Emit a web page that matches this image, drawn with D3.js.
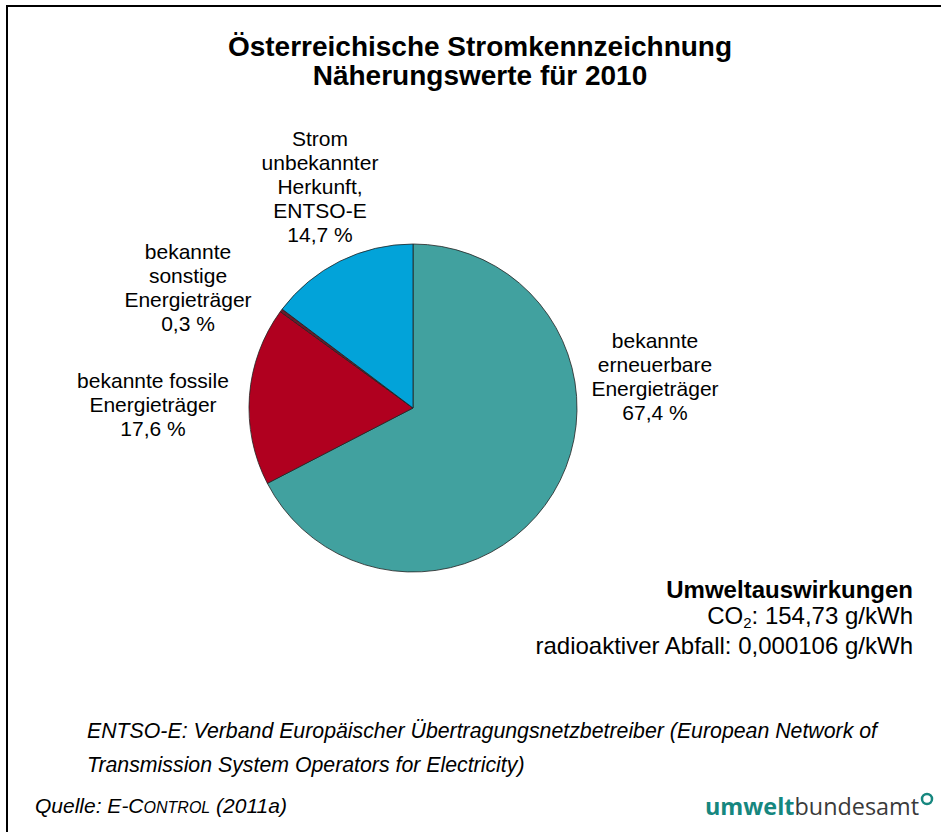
<!DOCTYPE html>
<html>
<head>
<meta charset="utf-8">
<script src="https://cdn.jsdelivr.net/npm/d3@7"></script>
<style>
  body { margin: 0; background: #fff; }
  svg { display: block; font-family: "Liberation Sans", Arial, sans-serif; }
</style>
</head>
<body>
<svg id="chart" width="941" height="832"></svg>
<script>
// slices, clockwise from 12 o'clock
var categories = ["erneuerbar", "fossil", "sonstige", "unbekannt"];
var shares = [67.4, 17.6, 0.3, 14.7];
var sliceColors = ["#41a19f", "#b0001f", "#6a1b2b", "#02a3d9"];
var labelLines = [
    ["bekannte", "erneuerbare", "Energieträger", "67,4 %"],
    ["bekannte fossile", "Energieträger", "17,6 %"],
    ["bekannte", "sonstige", "Energieträger", "0,3 %"],
    ["Strom", "unbekannter", "Herkunft,", "ENTSO-E", "14,7 %"]
];
// where each label block starts (centre x, first line y)
var labelAnchors = [[655, 348], [153, 388], [188, 259], [320, 146]];

var titleLines = ["Österreichische Stromkennzeichnung", "Näherungswerte für 2010"];

var svg = d3.select("#chart");
var width = 941, height = 832;

// frame (runs off right and bottom)
svg.append("rect")
    .attr("x", 7).attr("y", 6)
    .attr("width", 960).attr("height", 860)
    .attr("fill", "none")
    .attr("stroke", "#000")
    .attr("stroke-width", 2);

// title
svg.selectAll("text.title")
    .data(titleLines)
    .enter()
    .append("text")
    .attr("class", "title")
    .attr("x", 480)
    .attr("y", function (d, i) { return 56 + i * 29; })
    .attr("text-anchor", "middle")
    .style("font-size", "28px")
    .style("font-weight", "bold")
    .text(function (d) { return d; });

// pie
var cx = 413, cy = 408, radius = 164;

var data = categories.map(function (c, i) { return { category: c, value: shares[i] }; });

var color = d3.scaleOrdinal()
    .domain(categories)
    .range(sliceColors);

var pie = d3.pie()
    .value(function (d) { return d.value; })
    .sort(null);

var arc = d3.arc()
    .innerRadius(0)
    .outerRadius(radius);

var g = svg.append("g")
    .attr("transform", "translate(" + cx + "," + cy + ")");

g.selectAll("path")
    .data(pie(data))
    .enter()
    .append("path")
    .attr("d", arc)
    .attr("fill", function (d) { return color(d.data.category); })
    .attr("stroke", "#222")
    .attr("stroke-width", 0.8);

// slice labels
labelLines.forEach(function (lines, i) {
    var t = svg.append("text")
        .attr("text-anchor", "middle")
        .style("font-size", "21px");
    lines.forEach(function (line, j) {
        t.append("tspan")
            .attr("x", labelAnchors[i][0])
            .attr("y", labelAnchors[i][1] + j * 24)
            .text(line);
    });
});

// environmental impact box
var impact = svg.append("g").style("font-size", "24px").attr("text-anchor", "end");
impact.append("text")
    .attr("x", 913).attr("y", 598)
    .style("font-weight", "bold")
    .text("Umweltauswirkungen");
var co2 = impact.append("text").attr("x", 913).attr("y", 624);
co2.append("tspan").text("CO");
co2.append("tspan").attr("dy", 4).style("font-size", "15px").text("2");
co2.append("tspan").attr("dy", -4).text(": 154,73 g/kWh");
impact.append("text")
    .attr("x", 913).attr("y", 654)
    .text("radioaktiver Abfall: 0,000106 g/kWh");

// footnote
var footLines = [
    "ENTSO-E: Verband Europäischer Übertragungsnetzbetreiber (European Network of",
    "Transmission System Operators for Electricity)"
];
svg.selectAll("text.foot")
    .data(footLines)
    .enter()
    .append("text")
    .attr("class", "foot")
    .attr("x", 87)
    .attr("y", function (d, i) { return 738 + i * 34; })
    .style("font-size", "21.3px")
    .style("font-style", "italic")
    .text(function (d) { return d; });

// source
var src = svg.append("text")
    .attr("x", 35).attr("y", 813)
    .style("font-size", "21px")
    .style("font-style", "italic");
src.append("tspan").text("Quelle: E-C");
src.append("tspan").style("font-size", "16px").text("ONTROL");
src.append("tspan").text(" (2011a)");

// logo
var logo = svg.append("text")
    .attr("x", 705).attr("y", 815)
    .style("font-family", "'Open Sans', sans-serif")
    .style("font-size", "23.4px");
logo.append("tspan").style("font-weight", "bold").attr("fill", "#16877f").text("umwelt");
logo.append("tspan").attr("fill", "#3a3a3a").text("bundesamt");
svg.append("circle")
    .attr("cx", 927).attr("cy", 799).attr("r", 5)
    .attr("fill", "none").attr("stroke", "#16877f").attr("stroke-width", 2.5);
</script>
</body>
</html>
